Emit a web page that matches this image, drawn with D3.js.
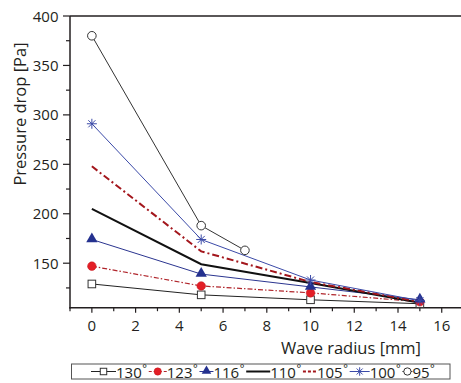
<!DOCTYPE html>
<html>
<head>
<meta charset="utf-8">
<script src="https://cdn.jsdelivr.net/npm/d3@7"></script>
<style>
  body { margin: 0; background: #fff; }
  text { font-family: "Open Sans", "Noto Sans", sans-serif; fill: #231f20; }
</style>
</head>
<body>
<script>
// radius values (mm) and pressure drop (Pa)
const angles = ["130°", "123°", "116°", "110°", "105°", "100°", "95°"];
const radiusFull = [0, 5, 10, 15];
const radius95 = [0, 5, 7];
const drop130 = [129, 118, 113, 109];
const drop123 = [147, 127, 120, 111];
const drop116 = [174, 139, 126, 113];
const drop110 = [205, 149, 130, 110];
const drop105 = [248, 162, 131, 111];
const drop100 = [291, 174, 133, 112];
const drop95 = [380, 188, 163];
const xTicks = [0, 2, 4, 6, 8, 10, 12, 14, 16];
const yTicks = [150, 200, 250, 300, 350, 400];

function main(){
    const W = 461, H = 383;
    const svg = d3.select("body").append("svg")
        .attr("width", W)
        .attr("height", H);

    const x = d3.scaleLinear().domain([-1, 17]).range([70, 463.6]);
    const y = d3.scaleLinear().domain([105, 400]).range([307.7, 16]);

    const series = [
        {name: angles[0], xs: radiusFull, ys: drop130, color: "#222", width: 1, dash: null, marker: "square"},
        {name: angles[1], xs: radiusFull, ys: drop123, color: "#b0252b", width: 1.2, dash: "5,2,1.5,2", marker: "circle"},
        {name: angles[2], xs: radiusFull, ys: drop116, color: "#2b3590", width: 1, dash: null, marker: "triangle"},
        {name: angles[3], xs: radiusFull, ys: drop110, color: "#111", width: 2, dash: null, marker: null},
        {name: angles[4], xs: radiusFull, ys: drop105, color: "#a3161c", width: 2, dash: "7,3,2,3", marker: null},
        {name: angles[5], xs: radiusFull, ys: drop100, color: "#3b4aa8", width: 1, dash: null, marker: "star"},
        {name: angles[6], xs: radius95, ys: drop95, color: "#333", width: 1, dash: null, marker: "ocircle"}
    ];

    // frame: top line
    svg.append("line")
        .attr("x1", 70).attr("x2", W)
        .attr("y1", 16).attr("y2", 16)
        .attr("stroke", "#231f20").attr("stroke-width", 1.5);

    // y axis
    const yAxis = svg.append("g").attr("transform", "translate(70,0)");
    yAxis.append("line").attr("x1", 0).attr("x2", 0)
        .attr("y1", 16).attr("y2", 308.5)
        .attr("stroke", "#231f20").attr("stroke-width", 1.5);
    d3.range(125, 401, 25).forEach(v => {
        const major = v % 50 === 0;
        yAxis.append("line")
            .attr("x1", major ? -7 : -4).attr("x2", 0)
            .attr("y1", y(v)).attr("y2", y(v))
            .attr("stroke", "#231f20").attr("stroke-width", 1.2);
    });
    yAxis.selectAll("text.tick").data(yTicks).join("text")
        .attr("class", "tick")
        .attr("x", -11.5).attr("y", d => y(d) + 5.5)
        .attr("text-anchor", "end")
        .attr("font-size", "15px")
        .text(d => d);

    // x axis
    const xAxis = svg.append("g").attr("transform", "translate(0,307.7)");
    xAxis.append("line").attr("x1", 69.3).attr("x2", W)
        .attr("y1", 0).attr("y2", 0)
        .attr("stroke", "#231f20").attr("stroke-width", 1.5);
    d3.range(-1, 18, 1).forEach(v => {
        const major = v % 2 === 0;
        xAxis.append("line")
            .attr("x1", x(v)).attr("x2", x(v))
            .attr("y1", 0).attr("y2", major ? 5 : 3.5)
            .attr("stroke", "#231f20").attr("stroke-width", 1.2);
    });
    xAxis.selectAll("text.tick").data(xTicks).join("text")
        .attr("class", "tick")
        .attr("x", d => x(d)).attr("y", 23)
        .attr("text-anchor", "middle")
        .attr("font-size", "15px")
        .text(d => d);

    // axis titles
    svg.append("text")
        .attr("x", 351).attr("y", 354)
        .attr("text-anchor", "middle")
        .attr("font-size", "16.5px")
        .text("Wave radius [mm]");
    svg.append("text")
        .attr("transform", "translate(26,114) rotate(-90)")
        .attr("text-anchor", "middle")
        .attr("font-size", "16.5px")
        .text("Pressure drop [Pa]");

    // lines
    const line = d3.line().x(d => x(d[0])).y(d => y(d[1]));
    const plot = svg.append("g");
    series.forEach(s => {
        plot.append("path")
            .datum(d3.zip(s.xs, s.ys))
            .attr("d", line)
            .attr("fill", "none")
            .attr("stroke", s.color)
            .attr("stroke-width", s.width)
            .attr("stroke-dasharray", s.dash);
    });

    function drawMarker(g, type, cx, cy, k = 1){
        if (type === "square") {
            g.append("rect").attr("x", cx - 3.8 * k).attr("y", cy - 3.8 * k)
                .attr("width", 7.6 * k).attr("height", 7.6 * k)
                .attr("fill", "#fff").attr("stroke", "#333").attr("stroke-width", 1);
        } else if (type === "circle") {
            g.append("circle").attr("cx", cx).attr("cy", cy).attr("r", 4.3 * k)
                .attr("fill", "#e31e26").attr("stroke", "#c4161c").attr("stroke-width", 0.5);
        } else if (type === "triangle") {
            g.append("path")
                .attr("d", d3.symbol(d3.symbolTriangle, 55 * k * k)())
                .attr("transform", `translate(${cx},${cy - 0.5})`)
                .attr("fill", "#24318f");
        } else if (type === "star") {
            const r = 5 * k;
            d3.range(4).forEach(i => {
                const a = i * Math.PI / 4;
                g.append("line")
                    .attr("x1", cx - r * Math.cos(a)).attr("y1", cy - r * Math.sin(a))
                    .attr("x2", cx + r * Math.cos(a)).attr("y2", cy + r * Math.sin(a))
                    .attr("stroke", "#3b4aa8").attr("stroke-width", 1);
            });
        } else if (type === "ocircle") {
            g.append("circle").attr("cx", cx).attr("cy", cy).attr("r", 4.3 * k)
                .attr("fill", "#fff").attr("stroke", "#333").attr("stroke-width", 1);
        }
    }

    series.forEach(s => {
        if (!s.marker) return;
        s.xs.forEach((r, i) => drawMarker(plot, s.marker, x(r), y(s.ys[i])));
    });

    // legend
    const leg = svg.append("g");
    leg.append("rect")
        .attr("x", 71.5).attr("y", 364)
        .attr("width", 378.5).attr("height", 15)
        .attr("fill", "#fff").attr("stroke", "#555").attr("stroke-width", 1);
    let cx = 91;
    const sampleLen = [25, 18, 14, 24, 14, 20, 10];
    series.forEach((s, i) => {
        const len = sampleLen[i];
        leg.append("line")
            .attr("x1", cx).attr("x2", cx + len)
            .attr("y1", 371.5).attr("y2", 371.5)
            .attr("stroke", s.color)
            .attr("stroke-width", s.width)
            .attr("stroke-dasharray", s.dash ? "3,2" : null);
        if (s.marker) drawMarker(leg, s.marker, cx + len / 2, 371.5, 0.85);
        const t = leg.append("text")
            .attr("x", cx + len).attr("y", 377.5)
            .attr("font-size", "15px")
            .text(s.name.replace("°", ""));
        const w = t.node().getComputedTextLength();
        leg.append("text")
            .attr("x", cx + len + w + 0.5).attr("y", 372)
            .attr("font-size", "11px")
            .text("°");
        cx = cx + len + w + 7;
    });
}
main();
</script>
</body>
</html>
